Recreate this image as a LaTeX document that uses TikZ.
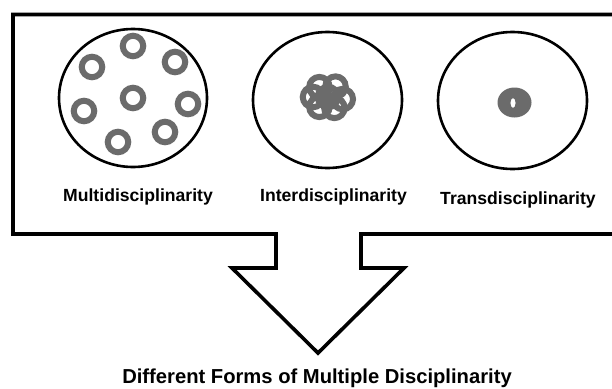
\documentclass[tikz,border=0pt]{standalone}
\usepackage{fontspec}
\setmainfont{Liberation Sans}
\usetikzlibrary{shapes.geometric,calc}
\definecolor{ringgray}{HTML}{6B6B6B}
\begin{document}
\begin{tikzpicture}[x=1pt,y=-1pt,
  outer/.style={draw=black,line width=2.6pt,ellipse,inner sep=0pt},
  ring/.style={draw=ringgray,line width=6pt},
  lab/.style={font=\bfseries\fontsize{17.6}{20}\selectfont,anchor=base,inner sep=0pt},
  title/.style={font=\bfseries\fontsize{20.2}{24}\selectfont,anchor=base,inner sep=0pt}]
\useasboundingbox[fill=white] (0,0) rectangle (612,388);
% frame with arrow
\draw[line width=3.6pt,line join=miter]
  (625,14.5) -- (13,14.5) -- (13,234) -- (276,234) -- (276,268) -- (232,268)
  -- (318,353) -- (404,268) -- (361,268) -- (361,234) -- (625,234);
% outer circles
\node[outer,minimum width=148pt,minimum height=138pt] (c1) at (133,98) {};
\node[outer,minimum width=149pt,minimum height=136pt] (c2) at (327.5,100) {};
\node[outer,minimum width=149pt,minimum height=137pt] (c3) at (512.5,100.5) {};
% multidisciplinarity rings
\foreach \x/\y in {133/46,92/67,175/62,133/98,84/111,188/104,165/132,118/142}
  \draw[ring] (\x,\y) circle (10.25);
% interdisciplinarity cluster
\foreach \a in {10,65,125,180,235,300}
  \draw[ring] ($(328,97)+(\a:15 and 12)$) circle (10.25);
\draw[ring] (328,97) circle (10.25);
% transdisciplinarity
\fill[ringgray,even odd rule] (514.5,102.5) ellipse (17 and 15) (513,103) ellipse (2.6 and 5);
% labels
\node[lab] (l1) at (138,201) {Multidisciplinarity};
\node[lab] (l2) at (333.5,201) {Interdisciplinarity};
\node[lab] (l3) at (518,204) {Transdisciplinarity};
\node[title] (t) at (317,383.5) {Different Forms of Multiple Disciplinarity};
\end{tikzpicture}
\end{document}
